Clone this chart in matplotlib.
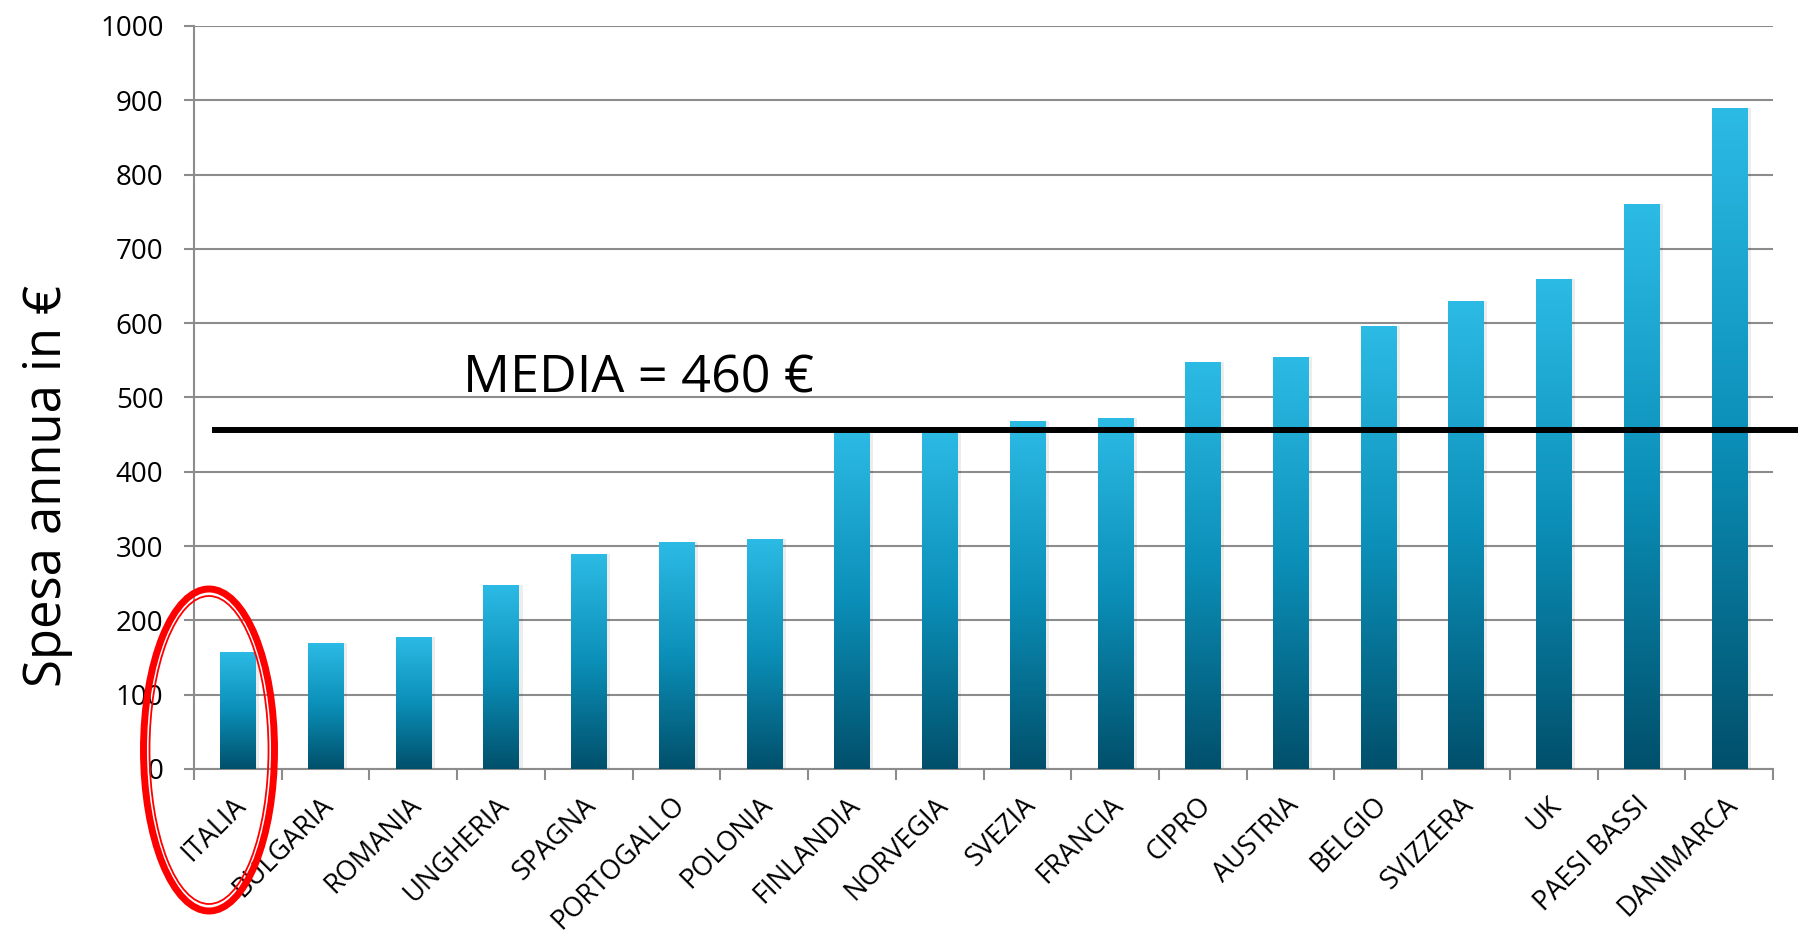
import numpy as np
import matplotlib
matplotlib.use("Agg")
import matplotlib.pyplot as plt
import matplotlib.transforms as mtransforms
from matplotlib.colors import LinearSegmentedColormap
from matplotlib.patches import Ellipse

# dati
paesi = ['ITALIA', 'BULGARIA', 'ROMANIA', 'UNGHERIA', 'SPAGNA', 'PORTOGALLO',
         'POLONIA', 'FINLANDIA', 'NORVEGIA', 'SVEZIA', 'FRANCIA', 'CIPRO',
         'AUSTRIA', 'BELGIO', 'SVIZZERA', 'UK', 'PAESI BASSI', 'DANIMARCA']
spesa = [158, 170, 178, 248, 289, 305, 310, 455, 455, 468, 473, 548,
         555, 596, 630, 660, 760, 889]
media = 456
media_label = 'MEDIA = 460 €'
yticks = [0, 100, 200, 300, 400, 500, 600, 700, 800, 900, 1000]

plt.rcParams['font.family'] = ['Open Sans', 'DejaVu Sans']

fig = plt.figure(figsize=(17.98, 9.34), dpi=100)
ax = fig.add_axes([0.1079, 0.1767, 0.8782, 0.7955])

x = np.arange(len(paesi))

# ombra leggera delle barre
ax.bar(x + 0.025, spesa, width=0.44, color='#000000', alpha=0.07, zorder=2)
bars = ax.bar(x, spesa, width=0.4, color='#1a9cc8', zorder=3)

# gradiente sulle barre
cmap = LinearSegmentedColormap.from_list('bar', ['#01506b', '#0b8fb8', '#2cbbe5'])
grad = np.linspace(0, 1, 256).reshape(-1, 1)
for b in bars:
    bx, by = b.get_x(), b.get_y()
    w, h = b.get_width(), b.get_height()
    im = ax.imshow(grad, cmap=cmap, origin='lower', aspect='auto',
                   extent=[bx, bx + w, by, by + h], zorder=4)
    im.set_clip_path(b)

ax.set_xlim(-0.5, len(paesi) - 0.5)
ax.set_ylim(0, 1000)

# griglia e assi
ax.set_yticks(yticks)
ax.yaxis.grid(True, color='#8c8c8c', linewidth=1.5, zorder=1)
ax.set_axisbelow(True)
for s in ['top', 'right']:
    ax.spines[s].set_visible(False)
for s in ['left', 'bottom']:
    ax.spines[s].set_color('#8c8c8c')
    ax.spines[s].set_linewidth(1.5)
ax.tick_params(axis='y', length=7, width=1.5, color='#8c8c8c', pad=15,
               labelsize=20)

ax.set_xticks(x)
ax.set_xticklabels(paesi, rotation=45, ha='right', va='top',
                   rotation_mode='anchor', fontsize=19.5)
ax.tick_params(axis='x', length=0, pad=16)
shift = mtransforms.ScaledTranslation(-6 / 100, 0, fig.dpi_scale_trans)
for lab in ax.get_xticklabels():
    lab.set_transform(lab.get_transform() + shift)
ax.set_xticks(np.arange(-0.5, len(paesi)), minor=True)
ax.tick_params(axis='x', which='minor', length=8, width=1.5, color='#8c8c8c')

ax.set_ylabel('Spesa annua in €', fontsize=36.5)
ax.yaxis.set_label_coords(-0.0767, 0.381)

# linea della media
ax.axhline(media, xmin=0.0133, xmax=1.02, color='black', linewidth=4.3,
           clip_on=False, zorder=6)
ax.text(2.567, media + 51, media_label, fontsize=37.5, color='black',
        ha='left', va='baseline', zorder=7)

# cerchio rosso su ITALIA
cx, cy = 209 / 1798, 1 - 750 / 934
fig.patches.append(Ellipse((cx, cy), 131 / 1798, 322 / 934, fill=False,
                           edgecolor='red', linewidth=5,
                           transform=fig.transFigure, zorder=10))
fig.patches.append(Ellipse((cx, cy), 119 / 1798, 308 / 934, fill=False,
                           edgecolor='red', linewidth=1.3,
                           transform=fig.transFigure, zorder=10))

fig.savefig('out.png', dpi=100, facecolor='white')
